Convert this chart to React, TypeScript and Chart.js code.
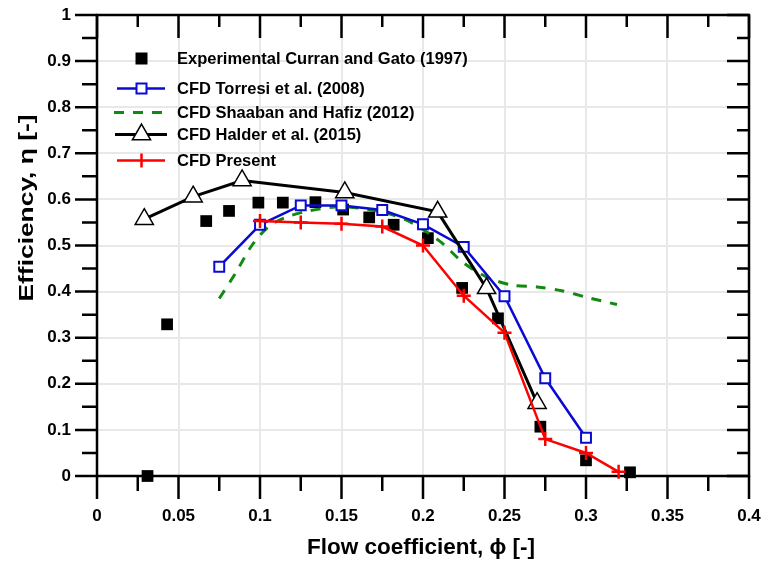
import React, { useEffect, useRef } from 'react';
import { Chart, registerables } from 'chart.js';

Chart.register(...registerables);

// Experimental data, Curran and Gato (1997)
const expPhi = [0.031, 0.043, 0.067, 0.081, 0.099, 0.114, 0.134, 0.151, 0.167, 0.182, 0.203, 0.224, 0.246, 0.272, 0.300, 0.327];
const expEta = [0.0, 0.329, 0.553, 0.575, 0.593, 0.593, 0.594, 0.578, 0.561, 0.545, 0.516, 0.408, 0.342, 0.107, 0.034, 0.008];

// CFD Torresi et al. (2008)
const torPhi = [0.075, 0.100, 0.125, 0.150, 0.175, 0.200, 0.225, 0.250, 0.275, 0.300];
const torEta = [0.454, 0.545, 0.587, 0.587, 0.577, 0.546, 0.497, 0.390, 0.212, 0.083];

// CFD Shaaban and Hafiz (2012)
const shaPhi = [0.075, 0.085, 0.095, 0.105, 0.115, 0.130, 0.150, 0.170, 0.190, 0.210, 0.225, 0.240, 0.255, 0.270, 0.285, 0.300, 0.319];
const shaEta = [0.385, 0.440, 0.500, 0.540, 0.560, 0.575, 0.584, 0.576, 0.555, 0.510, 0.462, 0.430, 0.414, 0.410, 0.402, 0.388, 0.372];

// CFD Halder et al. (2015)
const halPhi = [0.029, 0.059, 0.089, 0.152, 0.209, 0.239, 0.270];
const halEta = [0.557, 0.606, 0.641, 0.615, 0.573, 0.407, 0.158];

// CFD Present
const prePhi = [0.100, 0.125, 0.150, 0.175, 0.200, 0.225, 0.250, 0.275, 0.300, 0.320];
const preEta = [0.553, 0.550, 0.547, 0.541, 0.500, 0.391, 0.311, 0.080, 0.050, 0.009];

const seriesNames = [
  'Experimental Curran and Gato (1997)',
  'CFD Torresi et al. (2008)',
  'CFD Shaaban and Hafiz (2012)',
  'CFD Halder et al. (2015)',
  'CFD Present',
];

const xTitle = 'Flow coefficient, \u03D5 [-]';
const yTitle = 'Efficiency, \u03B7 [-]';

const FONT = '"Liberation Sans", Arial, sans-serif';
const BLUE = '#0a0ad2';
const GREEN = '#108a10';
const RED = '#ff0000';

const pts = (xs: number[], ys: number[]) => xs.map((x, i) => ({ x, y: ys[i] }));
const fmt = (v: number | string) => String(+Number(v).toFixed(3));

function drawLegend(ctx: CanvasRenderingContext2D) {
  const symX = 141.5;
  const lineL = 117;
  const lineR = 165;
  const textX = 177;
  const rows = [58.5, 88.5, 112.5, 134.5, 160.5];

  ctx.save();
  ctx.font = `bold 16.5px ${FONT}`;
  ctx.textBaseline = 'middle';
  ctx.textAlign = 'left';
  ctx.fillStyle = '#000';
  seriesNames.forEach((n, i) => ctx.fillText(n, textX, rows[i] + 1));

  // experimental: filled square
  ctx.fillStyle = '#000';
  ctx.fillRect(symX - 6, rows[0] - 6, 12, 12);

  // Torresi: blue line + hollow square
  ctx.strokeStyle = BLUE;
  ctx.lineWidth = 2.5;
  ctx.beginPath();
  ctx.moveTo(lineL, rows[1]);
  ctx.lineTo(lineR, rows[1]);
  ctx.stroke();
  ctx.fillStyle = '#fff';
  ctx.fillRect(symX - 5, rows[1] - 5, 10, 10);
  ctx.lineWidth = 2;
  ctx.strokeRect(symX - 5, rows[1] - 5, 10, 10);

  // Shaaban: green dashed
  ctx.strokeStyle = GREEN;
  ctx.lineWidth = 3;
  ctx.setLineDash([10, 9]);
  ctx.beginPath();
  ctx.moveTo(lineL - 3, rows[2]);
  ctx.lineTo(lineR + 5, rows[2]);
  ctx.stroke();
  ctx.setLineDash([]);

  // Halder: black line + hollow triangle
  ctx.strokeStyle = '#000';
  ctx.lineWidth = 3;
  ctx.beginPath();
  ctx.moveTo(lineL - 2, rows[3]);
  ctx.lineTo(lineR + 2, rows[3]);
  ctx.stroke();
  const r = 10.5;
  ctx.beginPath();
  for (let k = 0; k < 3; k++) {
    const a = (k * 2 * Math.PI) / 3;
    const px = symX + Math.sin(a) * r;
    const py = rows[3] - Math.cos(a) * r;
    if (k === 0) ctx.moveTo(px, py);
    else ctx.lineTo(px, py);
  }
  ctx.closePath();
  ctx.fillStyle = '#fff';
  ctx.fill();
  ctx.lineWidth = 1.5;
  ctx.stroke();

  // Present: red line + cross
  ctx.strokeStyle = RED;
  ctx.lineWidth = 2.5;
  ctx.beginPath();
  ctx.moveTo(lineL, rows[4]);
  ctx.lineTo(lineR, rows[4]);
  ctx.moveTo(symX, rows[4] - 7);
  ctx.lineTo(symX, rows[4] + 7);
  ctx.stroke();
  ctx.restore();
}

const framePlugin = {
  id: 'frameAndTicks',
  beforeDatasetsDraw(chart: any) {
    const { ctx, chartArea: a, scales } = chart;
    const xs = scales.x;
    const ys = scales.y;
    ctx.save();
    ctx.strokeStyle = '#000';
    ctx.lineWidth = 2.5;
    ctx.strokeRect(a.left, a.top, a.right - a.left, a.bottom - a.top);
    ctx.beginPath();
    for (let i = 0; i <= 16; i++) {
      const px = xs.getPixelForValue(i * 0.025);
      const major = i % 2 === 0;
      ctx.moveTo(px, a.bottom);
      ctx.lineTo(px, a.bottom + (major ? 23 : 15));
      ctx.moveTo(px, a.top);
      ctx.lineTo(px, a.top + (major ? 23 : 12));
    }
    for (let i = 0; i <= 20; i++) {
      const py = ys.getPixelForValue(i * 0.05);
      const major = i % 2 === 0;
      ctx.moveTo(a.left - (major ? 22 : 15), py);
      ctx.lineTo(a.left, py);
      ctx.moveTo(a.right, py);
      ctx.lineTo(a.right - (major ? 22 : 12), py);
    }
    ctx.stroke();
    ctx.restore();
  },
  afterDraw(chart: any) {
    const { ctx } = chart;
    ctx.save();
    ctx.fillStyle = '#000';
    ctx.textAlign = 'center';
    ctx.textBaseline = 'middle';
    ctx.font = `bold 22.5px ${FONT}`;
    ctx.fillText(xTitle, 421, 548);
    ctx.font = `bold 21px ${FONT}`;
    const w = ctx.measureText(yTitle).width;
    ctx.translate(27, 208);
    ctx.rotate(-Math.PI / 2);
    ctx.scale(187 / w, 1);
    ctx.fillText(yTitle, 0, 0);
    ctx.restore();
    drawLegend(ctx);
  },
};

const noPad = (s: any) => {
  s.paddingTop = 0;
  s.paddingBottom = 0;
  s.paddingLeft = 0;
  s.paddingRight = 0;
};

export default function App() {
  const canvasRef = useRef<HTMLCanvasElement | null>(null);

  useEffect(() => {
    if (!canvasRef.current) return;
    const chart = new Chart(canvasRef.current, {
      type: 'scatter',
      data: {
        datasets: [
          {
            label: seriesNames[0],
            data: pts(expPhi, expEta),
            showLine: false,
            pointStyle: 'rect',
            pointRadius: 8.3,
            backgroundColor: '#000',
            borderColor: '#000',
            borderWidth: 0,
            clip: false,
            order: 5,
          },
          {
            label: seriesNames[2],
            data: pts(shaPhi, shaEta),
            showLine: true,
            borderColor: GREEN,
            borderWidth: 3,
            borderDash: [10, 9],
            tension: 0.3,
            pointRadius: 0,
            clip: false,
            order: 4,
          },
          {
            label: seriesNames[1],
            data: pts(torPhi, torEta),
            showLine: true,
            borderColor: BLUE,
            borderWidth: 2.5,
            pointStyle: 'rect',
            pointRadius: 7,
            pointBorderWidth: 2,
            pointBorderColor: BLUE,
            pointBackgroundColor: '#fff',
            clip: false,
            order: 3,
          },
          {
            label: seriesNames[3],
            data: pts(halPhi, halEta),
            showLine: true,
            borderColor: '#000',
            borderWidth: 3,
            pointStyle: 'triangle',
            pointRadius: 10.5,
            pointBorderWidth: 1.5,
            pointBorderColor: '#000',
            pointBackgroundColor: '#fff',
            clip: false,
            order: 2,
          },
          {
            label: seriesNames[4],
            data: pts(prePhi, preEta),
            showLine: true,
            borderColor: RED,
            borderWidth: 2.5,
            pointStyle: 'cross',
            pointRadius: 7,
            pointBorderWidth: 2.5,
            pointBorderColor: RED,
            clip: false,
            order: 1,
          },
        ],
      },
      options: {
        animation: false,
        responsive: false,
        devicePixelRatio: 1,
        layout: { padding: { left: 0, top: 15, right: 14, bottom: 0 } },
        plugins: {
          legend: { display: false },
          tooltip: { enabled: false },
          title: { display: false },
        },
        scales: {
          x: {
            type: 'linear',
            min: 0,
            max: 0.4,
            afterFit(s: any) {
              s.height = 90;
              noPad(s);
            },
            ticks: {
              stepSize: 0.05,
              padding: 30,
              color: '#000',
              font: { family: FONT, size: 17, weight: 'bold' },
              callback: (v: any) => fmt(v),
              maxRotation: 0,
              autoSkip: false,
            },
            grid: { color: '#e8e8e8', lineWidth: 2, drawTicks: false },
            border: { display: false },
          },
          y: {
            type: 'linear',
            min: 0,
            max: 1,
            afterFit(s: any) {
              s.width = 97;
              noPad(s);
            },
            ticks: {
              stepSize: 0.1,
              padding: 26,
              color: '#000',
              font: { family: FONT, size: 17, weight: 'bold' },
              callback: (v: any) => fmt(v),
              autoSkip: false,
            },
            grid: { color: '#e8e8e8', lineWidth: 2, drawTicks: false },
            border: { display: false },
          },
        },
      },
      plugins: [framePlugin],
    });
    return () => chart.destroy();
  }, []);

  return (
    <div style={{ position: 'absolute', left: 0, top: 0, width: 763, height: 566, background: '#fff' }}>
      <canvas ref={canvasRef} width={763} height={566} />
    </div>
  );
}
